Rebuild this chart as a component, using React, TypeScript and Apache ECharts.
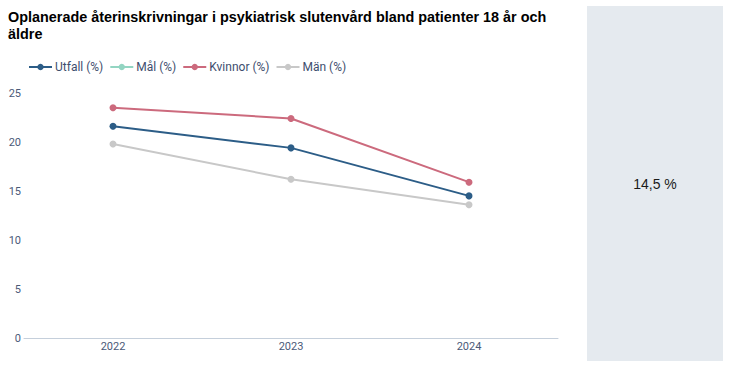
import React, { useEffect, useRef } from "react";
import * as echarts from "echarts";

const categories = ["2022", "2023", "2024"];
const utfall = [21.6, 19.4, 14.5];
const mal: (number | null)[] = [null, null, null];
const kvinnor = [23.5, 22.4, 15.9];
const man = [19.8, 16.2, 13.6];
const yTicks = { min: 0, max: 25, interval: 5 };
const titleText =
  "Oplanerade återinskrivningar i psykiatrisk slutenvård bland patienter 18 år och äldre";
const kpiText = "14,5 %";

const axisColor = "#4b5a78";

export default function App() {
  const ref = useRef<HTMLDivElement>(null);
  useEffect(() => {
    if (!ref.current) return;
    const chart = echarts.init(ref.current, undefined, { renderer: "svg" });
    const mk = (name: string, data: (number | null)[], color: string) => ({
      name,
      type: "line",
      data,
      symbol: "circle",
      symbolSize: 7,
      showSymbol: true,
      lineStyle: { width: 2, color },
      itemStyle: { color },
      emphasis: { disabled: true },
    });
    chart.setOption({
      animation: false,
      title: {
        text: titleText,
        left: 3,
        top: 3,
        textStyle: {
          fontFamily: "Liberation Sans, Arial, sans-serif",
          fontSize: 14.4,
          fontWeight: "bold",
          color: "#000",
          width: 568,
          overflow: "break",
          lineHeight: 17,
        },
      },
      legend: {
        left: 23,
        top: 56,
        itemWidth: 23,
        itemHeight: 8,
        itemGap: 6,
        textStyle: {
          fontFamily: "Roboto, sans-serif",
          fontSize: 12,
          color: "#3e4e6e",
          padding: [0, 0, 0, -2],
        },
        data: ["Utfall (%)", "Mål (%)", "Kvinnor (%)", "Män (%)"],
      },
      grid: { left: 24, width: 534, top: 93, bottom: 36 },
      xAxis: {
        type: "category",
        data: categories,
        axisLine: { lineStyle: { color: "#c5cfdb", width: 1 } },
        axisTick: { show: false },
        axisLabel: {
          color: axisColor,
          fontFamily: "Roboto, sans-serif",
          fontSize: 11,
          margin: 3,
        },
      },
      yAxis: {
        type: "value",
        min: yTicks.min,
        max: yTicks.max,
        interval: yTicks.interval,
        splitLine: { show: false },
        axisLine: { show: false },
        axisTick: { show: false },
        axisLabel: {
          color: axisColor,
          fontFamily: "Roboto, sans-serif",
          fontSize: 11,
          margin: 3,
        },
      },
      series: [
        mk("Utfall (%)", utfall, "#2c5d87"),
        mk("Mål (%)", mal, "#93d5c2"),
        mk("Kvinnor (%)", kvinnor, "#cc6a7d"),
        mk("Män (%)", man, "#c8c8c8"),
      ],
      graphic: [
        {
          type: "rect",
          shape: { x: 587, y: 6, width: 136, height: 355 },
          style: { fill: "#e5eaef" },
          silent: true,
        },
        {
          type: "text",
          x: 655,
          y: 184,
          style: {
            text: kpiText,
            fill: "#1a1a1a",
            font: "14px Liberation Sans, Arial, sans-serif",
            textAlign: "center",
            textVerticalAlign: "middle",
          },
        },
      ],
    });
    return () => chart.dispose();
  }, []);
  return (
    <div
      ref={ref}
      style={{ position: "fixed", left: 0, top: 0, width: 735, height: 374, background: "#fff" }}
    />
  );
}
